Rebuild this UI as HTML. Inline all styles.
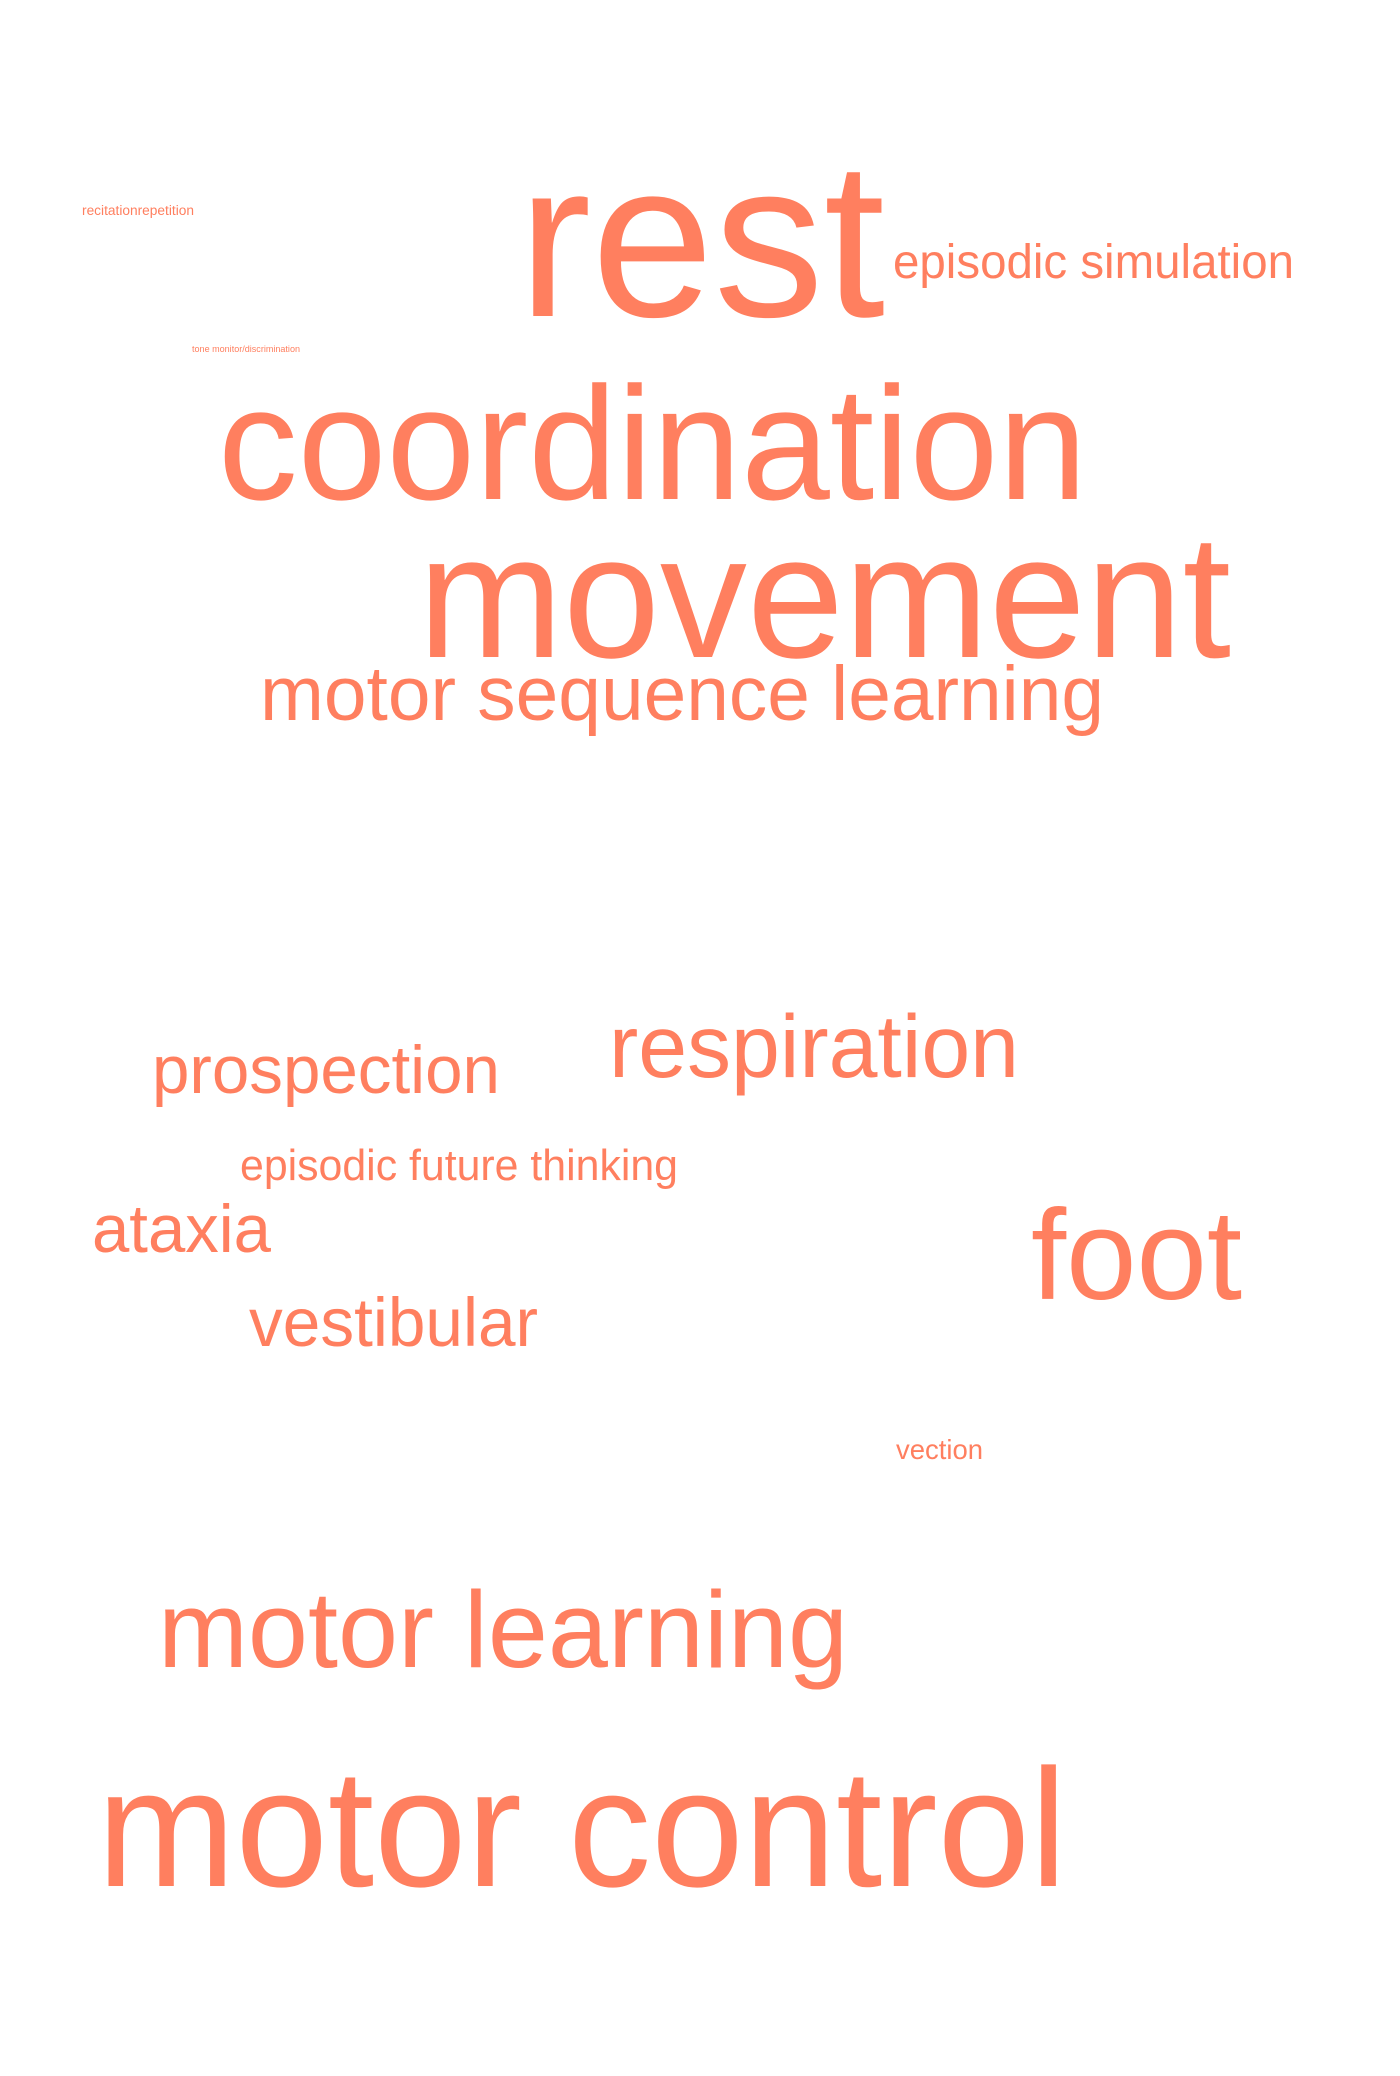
<!DOCTYPE html>
<html><head><meta charset="utf-8"><style>
html,body{margin:0;padding:0;background:#fff;}
svg{display:block;}
text{font-family:"Liberation Sans",Arial,sans-serif;fill:#FF7F5F;}
</style></head><body>
<svg id="cloud" width="1400" height="2076" viewBox="0 0 1400 2076"></svg>
<script>
const words=["rest","episodic simulation","recitationrepetition","tone monitor/discrimination","coordination","movement","motor sequence learning","prospection","respiration","episodic future thinking","ataxia","foot","vestibular","vection","motor learning","motor control"];
const xs=[518,893,82,192,218,418,260,152,609,240,92,1031,249,896,158,97];
const ys=[316,278,215,352,499,657,720,1093,1077,1180,1252,1299,1346,1459,1667,1886];
const ws=[367,401,112,108,869,813,844,348,410,438,179,211,289,87,690,970];
const svg=document.getElementById('cloud');
const NS='http://www.w3.org/2000/svg';
for(let i=0;i<words.length;i++){
  const t=document.createElementNS(NS,'text');
  t.setAttribute('x',xs[i]);
  t.setAttribute('y',ys[i]);
  t.setAttribute('font-size',100);
  t.textContent=words[i];
  
  
  svg.appendChild(t);
  const natural=t.getComputedTextLength();
  const fs=101*ws[i]/natural;
  t.setAttribute('font-size',fs.toFixed(2));
  t.setAttribute('textLength',ws[i]);
  t.setAttribute('lengthAdjust','spacingAndGlyphs');
}
</script>
</body></html>
